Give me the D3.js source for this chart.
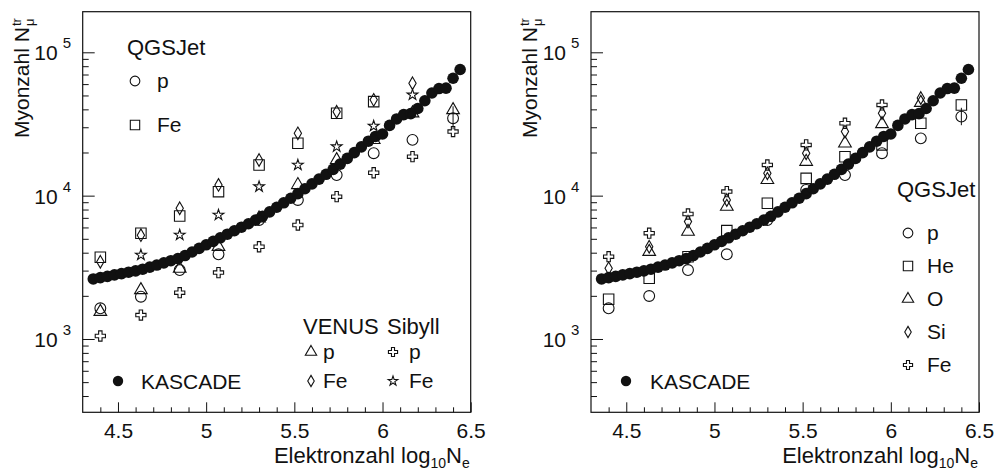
<!DOCTYPE html>
<html><head><meta charset="utf-8">
<script src="https://cdn.jsdelivr.net/npm/d3@7"></script>
<style>
body{margin:0;background:#fff}
svg{display:block}
text{font-family:"Liberation Sans",Arial,Helvetica,sans-serif;fill:#111}
</style>
</head><body>
<svg id="c" width="996" height="472"></svg>
<script>
// ---------------- data ----------------
const kascadeLogNe = [4.36,4.40,4.44,4.48,4.52,4.56,4.60,4.64,4.68,4.72,4.76,4.80,4.84,4.88,4.92,4.96,5.00,5.04,5.08,5.12,5.16,5.20,5.24,5.28,5.32,5.36,5.40,5.44,5.48,5.52,5.56,5.60,5.64,5.68,5.72,5.76,5.80,5.84,5.88,5.92,5.96,6.00,6.04,6.08,6.12,6.16,6.20,6.24,6.28,6.32,6.36,6.40,6.44];
const kascadeNmu = [2624,2679,2735,2799,2858,2924,2985,3069,3170,3281,3396,3516,3639,3819,4046,4285,4539,4797,5082,5383,5689,6026,6368,6745,7178,7709,8299,8913,9594,10328,11169,12078,13032,14093,15241,16596,18197,19953,21878,23988,25882,26915,30903,34277,36728,37325,40551,45920,52000,55847,56234,65917,75858];

const mcLogNe = [4.40,4.63,4.85,5.07,5.30,5.52,5.74,5.95,6.17,6.40];

// left panel: model comparison
const leftQgsP     = [1637,1972,3027,3899,6760,9330,13930,19770,24500,34700];
const leftQgsFe    = [3716,5470,7213,10660,16370,23200,37600,45300,null,null];
const leftVenusP   = [1550,2198,3100,4403,6950,11880,17740,24500,37600,39600];
const leftVenusFe  = [3459,5300,8166,11880,17740,27230,38500,46600,60800,null];
const leftSibyllP  = [1049,1469,2103,2905,4400,6240,9840,14450,18700,28000];
const leftSibyllFe = [null,3855,5320,7330,11560,16370,21970,30600,50500,null];
const leftErrLogNe = [6.40];
const leftErrLo = [29000];
const leftErrHi = [42000];

// right panel: QGSJet primaries
const rightP  = [1637,1995,3027,3900,6760,10970,13930,19770,25100,35600];
const rightHe = [1893,2655,3750,5700,8850,13200,18700,22600,32000,42900];
const rightO  = [null,4064,5610,8380,12880,17260,23200,31620,44500,null];
const rightSi = [3113,4400,6590,9330,14320,19770,27990,37600,48000,null];
const rightFe = [3750,5470,7450,10670,16370,22600,31990,42940,null,null];
const rightErrLogNe = [6.40];
const rightErrLo = [31000];
const rightErrHi = [41000];

const xMajorTicks = [4.5,5,5.5,6,6.5];
const xTickLabels = ["4.5","5","5.5","6","6.5"];
const xMinorTicks = [4.4,4.6,4.7,4.8,4.9,5.1,5.2,5.3,5.4,5.6,5.7,5.8,5.9,6.1,6.2,6.3,6.4];
const yDecades = [3,4,5];
const yMinorTicks = [400,500,600,700,800,900,2000,3000,4000,5000,6000,7000,8000,9000,20000,30000,40000,50000,60000,70000,80000,90000];

// ---------------- layout ----------------
const svg = d3.select("#c");
const TOP = 11.7, BOTTOM = 412.3;
const xDomain = [4.3, 6.5];
const yDomain = [308, 1.92e5];
const INK = "#111";

const shapes = {
  circle:  {type: d3.symbolCircle,  size: 92},
  square:  {type: d3.symbolSquare,  size: 110},
  triangle:{type: d3.symbolTriangle,size: 70},
  diamond: {type: d3.symbolDiamond, size: 46},
  cross:   {type: d3.symbolCross,   size: 58},
  star:    {type: d3.symbolStar,    size: 36}
};

function symPath(shape, scale){
  const s = shapes[shape];
  return d3.symbol().type(s.type).size(s.size*(scale||1))();
}

function panel(x0, x1){
  const x = d3.scaleLinear().domain(xDomain).range([x0, x1]);
  const y = d3.scaleLog().domain(yDomain).range([BOTTOM, TOP]);
  const g = svg.append("g");

  // x axis major ticks + labels
  const ax = g.append("g").attr("transform", `translate(0,${BOTTOM})`)
    .call(d3.axisBottom(x).tickValues(xMajorTicks).tickSize(-10)
      .tickFormat((d,i) => xTickLabels[i]));
  ax.select(".domain").remove();
  ax.selectAll("line").attr("stroke", INK);
  ax.selectAll("text").attr("y", 26).attr("dy", null)
    .attr("font-size", 21).attr("fill", INK)
    .style("font-family", '"Liberation Sans",Arial,sans-serif');
  const axm = g.append("g").attr("transform", `translate(0,${BOTTOM})`)
    .call(d3.axisBottom(x).tickValues(xMinorTicks).tickSize(-5).tickFormat(""));
  axm.select(".domain").remove();
  axm.selectAll("line").attr("stroke", INK);

  // y axis ticks
  const ay = g.append("g").attr("transform", `translate(${x0},0)`)
    .call(d3.axisLeft(y).tickValues(yDecades.map(d => Math.pow(10,d))).tickSize(-12).tickFormat(""));
  ay.select(".domain").remove();
  ay.selectAll("line").attr("stroke", INK);
  const aym = g.append("g").attr("transform", `translate(${x0},0)`)
    .call(d3.axisLeft(y).tickValues(yMinorTicks).tickSize(-6).tickFormat(""));
  aym.select(".domain").remove();
  aym.selectAll("line").attr("stroke", INK);

  // y tick labels 10^n
  yDecades.forEach(d => {
    const yy = y(Math.pow(10,d));
    g.append("text").attr("x", x0-25).attr("y", yy+8).attr("text-anchor","end")
      .attr("font-size", 21).text("10");
    g.append("text").attr("x", x0-20).attr("y", yy-4).attr("font-size", 15).text(d);
  });

  // frame
  g.append("rect").attr("x", x0).attr("y", TOP).attr("width", x1-x0).attr("height", BOTTOM-TOP)
    .attr("fill","none").attr("stroke", INK).attr("stroke-width", 1.2);

  // y title
  const yt = g.append("g").attr("transform", `translate(${x0-54},138) rotate(-90)`);
  const main = yt.append("text").attr("x",0).attr("y",0).attr("font-size",21).text("Myonzahl N");
  const L = main.node().getComputedTextLength();
  yt.append("text").attr("x", L+1).attr("y", -8).attr("font-size", 13).text("tr");
  yt.append("text").attr("x", L+1).attr("y", 5).attr("font-size", 13).text("μ");

  // x title
  const xt = g.append("text").attr("x", x1-1).attr("y", 463).attr("text-anchor","end").attr("font-size",22);
  xt.append("tspan").text("Elektronzahl log");
  xt.append("tspan").attr("font-size",14).attr("dy",5).text("10");
  xt.append("tspan").attr("dy",-5).text("N");
  xt.append("tspan").attr("font-size",14).attr("dy",5).text("e");

  return {g, x, y};
}

function drawKascade(P){
  P.g.append("g").selectAll("circle")
    .data(kascadeLogNe.map((v,i)=>({x:v, y:kascadeNmu[i]})))
    .join("circle")
    .attr("cx", d => P.x(d.x)).attr("cy", d => P.y(d.y)).attr("r", 5.8)
    .attr("fill", INK);
}

function drawSeries(P, values, shape){
  const pts = mcLogNe.map((v,i)=>({x:v, y:values[i]})).filter(d => d.y != null);
  P.g.append("g").selectAll("path").data(pts).join("path")
    .attr("d", symPath(shape))
    .attr("transform", d => `translate(${P.x(d.x)},${P.y(d.y)})`)
    .attr("fill","none").attr("stroke", INK).attr("stroke-width", 1.1);
}

function drawErr(P, xs, lo, hi){
  P.g.append("g").selectAll("line").data(xs.map((v,i)=>({x:v, lo:lo[i], hi:hi[i]}))).join("line")
    .attr("x1", d => P.x(d.x)).attr("x2", d => P.x(d.x))
    .attr("y1", d => P.y(d.lo)).attr("y2", d => P.y(d.hi))
    .attr("stroke", INK).attr("stroke-width", 1);
}

function legendItem(g, cx, cy, shape, label, tx){
  g.append("path").attr("d", symPath(shape, 0.8)).attr("transform", `translate(${cx},${cy})`)
    .attr("fill","none").attr("stroke",INK).attr("stroke-width",1.1);
  g.append("text").attr("x", tx).attr("y", cy+7).attr("font-size",21).text(label);
}

// ---------------- left panel ----------------
const L = panel(82.7, 470.7);
drawKascade(L);
drawErr(L, leftErrLogNe, leftErrLo, leftErrHi);
drawSeries(L, leftQgsP, "circle");
drawSeries(L, leftQgsFe, "square");
drawSeries(L, leftVenusP, "triangle");
drawSeries(L, leftVenusFe, "diamond");
drawSeries(L, leftSibyllP, "cross");
drawSeries(L, leftSibyllFe, "star");

L.g.append("text").attr("x",127).attr("y",55).attr("font-size",22).text("QGSJet");
legendItem(L.g, 135, 81, "circle", "p", 157);
legendItem(L.g, 135, 125, "square", "Fe", 157);
L.g.append("text").attr("x",303).attr("y",334).attr("font-size",22).text("VENUS");
L.g.append("text").attr("x",387).attr("y",334).attr("font-size",22).text("Sibyll");
legendItem(L.g, 311, 352, "triangle", "p", 323);
legendItem(L.g, 393, 352, "cross", "p", 409);
legendItem(L.g, 311, 381, "diamond", "Fe", 323);
legendItem(L.g, 393, 381, "star", "Fe", 409);
L.g.append("circle").attr("cx",118).attr("cy",381).attr("r",5.2).attr("fill",INK);
L.g.append("text").attr("x",141).attr("y",389).attr("font-size",21).text("KASCADE");

// ---------------- right panel ----------------
const R = panel(591, 979);
drawKascade(R);
drawErr(R, rightErrLogNe, rightErrLo, rightErrHi);
drawSeries(R, rightP, "circle");
drawSeries(R, rightHe, "square");
drawSeries(R, rightO, "triangle");
drawSeries(R, rightSi, "diamond");
drawSeries(R, rightFe, "cross");

R.g.append("text").attr("x",897).attr("y",197).attr("font-size",22).text("QGSJet");
legendItem(R.g, 908, 233, "circle", "p", 927);
legendItem(R.g, 908, 266, "square", "He", 927);
legendItem(R.g, 908, 299, "triangle", "O", 927);
legendItem(R.g, 908, 332, "diamond", "Si", 927);
legendItem(R.g, 908, 365, "cross", "Fe", 927);
R.g.append("circle").attr("cx",626).attr("cy",381).attr("r",5.2).attr("fill",INK);
R.g.append("text").attr("x",650).attr("y",389).attr("font-size",21).text("KASCADE");
</script>
</body></html>
